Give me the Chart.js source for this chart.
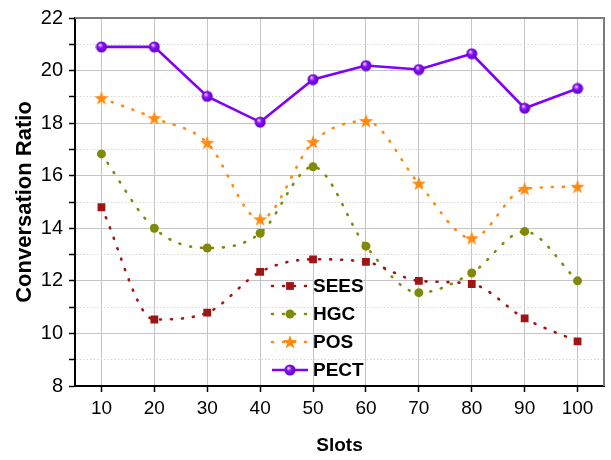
<!DOCTYPE html>
<html>
<head>
<meta charset="utf-8">
<script src="https://cdn.jsdelivr.net/npm/chart.js@4.4.1/dist/chart.umd.min.js"></script>
<style>
  html, body { margin: 0; padding: 0; background: #fff; }
</style>
</head>
<body>
<canvas id="ratio" width="611" height="460"></canvas>
<script>
const slots = ['10', '20', '30', '40', '50', '60', '70', '80', '90', '100'];
const seriesNames = ['SEES', 'HGC', 'POS', 'PECT'];
const sees = [14.8, 10.53, 10.79, 12.34, 12.82, 12.72, 12.0, 11.88, 10.57, 9.7];
const hgc = [16.83, 14.0, 13.25, 13.81, 16.34, 13.32, 11.55, 12.3, 13.88, 12.0];
const pos = [18.95, 18.19, 17.25, 14.34, 17.28, 18.08, 15.7, 13.62, 15.5, 15.58];
const pect = [20.9, 20.9, 19.02, 18.04, 19.66, 20.19, 20.04, 20.64, 18.57, 19.32];
const yMin = 8, yMax = 22;

const FONT = "'Liberation Sans', Arial, sans-serif";

// filled five point star for POS
function starImage(color) {
  const c = document.createElement('canvas');
  c.width = 16; c.height = 16;
  const g = c.getContext('2d');
  g.beginPath();
  for (let i = 0; i < 10; i++) {
    const r = i % 2 ? 3 : 7.5;
    const a = -Math.PI / 2 + i * Math.PI / 5;
    g.lineTo(8 + r * Math.cos(a), 8.5 + r * Math.sin(a));
  }
  g.closePath();
  g.fillStyle = color;
  g.fill();
  return c;
}

// shaded ball for PECT
function ballImage(color) {
  const c = document.createElement('canvas');
  c.width = 12; c.height = 12;
  const g = c.getContext('2d');
  const grad = g.createRadialGradient(4.5, 4, 0.5, 6, 6, 6);
  grad.addColorStop(0, '#e6ccff');
  grad.addColorStop(0.35, color);
  grad.addColorStop(1, '#5a00b5');
  g.beginPath();
  g.arc(6, 6, 5.5, 0, Math.PI * 2);
  g.fillStyle = grad;
  g.fill();
  return c;
}

const frame = {
  id: 'frame',
  beforeDatasetsDraw(chart) {
    const {ctx, chartArea: a} = chart;
    ctx.save();
    ctx.strokeStyle = '#7a7a7a';
    ctx.lineWidth = 2;
    ctx.beginPath();
    ctx.moveTo(a.left, a.top);
    ctx.lineTo(a.right, a.top);
    ctx.lineTo(a.right, a.bottom);
    ctx.stroke();
    ctx.restore();
  }
};

const insideLegend = {
  id: 'insideLegend',
  afterDatasetsDraw(chart) {
    const ctx = chart.ctx;
    const x0 = 272, y0 = 286, step = 28;
    chart.data.datasets.forEach((ds, i) => {
      const y = y0 + i * step;
      ctx.save();
      ctx.strokeStyle = ds.borderColor;
      ctx.lineWidth = ds.borderWidth;
      ctx.lineCap = ds.borderCapStyle || 'butt';
      ctx.setLineDash(ds.borderDash || []);
      ctx.beginPath();
      ctx.moveTo(x0, y);
      ctx.lineTo(x0 + 36, y);
      ctx.stroke();
      ctx.setLineDash([]);
      ctx.fillStyle = ds.pointBackgroundColor;
      Chart.helpers.drawPoint(ctx, {pointStyle: ds.pointStyle, radius: ds.pointRadius, rotation: 0, borderWidth: 0}, x0 + 18, y);
      ctx.fillStyle = '#000';
      ctx.font = 'bold 19px ' + FONT;
      ctx.textBaseline = 'middle';
      ctx.textAlign = 'left';
      ctx.fillText(ds.label, x0 + 41, y + 1);
      ctx.restore();
    });
  }
};

const dotted = {borderWidth: 2.6, borderDash: [1, 10], borderCapStyle: 'round', cubicInterpolationMode: 'monotone', fill: false};

new Chart(document.getElementById('ratio').getContext('2d'), {
  type: 'line',
  data: {
    labels: slots,
    datasets: [
      Object.assign({label: seriesNames[0], data: sees, borderColor: '#a01414', pointBackgroundColor: '#a01414',
        pointStyle: 'rect', pointRadius: 5.5, pointBorderWidth: 0}, dotted),
      Object.assign({label: seriesNames[1], data: hgc, borderColor: '#7f8a08', pointBackgroundColor: '#7f8a08',
        pointStyle: 'circle', pointRadius: 4.5, pointBorderWidth: 0}, dotted),
      Object.assign({label: seriesNames[2], data: pos, borderColor: '#ff8a10', pointBackgroundColor: '#ff8a10',
        pointStyle: starImage('#ff8a10'), pointRadius: 7, pointBorderWidth: 0}, dotted),
      {label: seriesNames[3], data: pect, borderColor: '#8000ff', pointBackgroundColor: '#8000ff',
        pointStyle: ballImage('#8a10ff'), pointRadius: 6, pointBorderWidth: 0, borderWidth: 2.6, tension: 0, fill: false}
    ]
  },
  options: {
    responsive: false,
    devicePixelRatio: 1,
    animation: false,
    layout: { padding: { top: 15, right: 7, left: 0, bottom: 0 } },
    plugins: {
      legend: { display: false },
      title: { display: false },
      tooltip: { enabled: false }
    },
    scales: {
      x: {
        type: 'category',
        offset: true,
        grid: { color: '#c4c4c4', lineWidth: 1, tickColor: '#000', tickLength: 6, tickWidth: 1.5 },
        border: { color: '#000', width: 2 },
        ticks: { color: '#000', font: { family: FONT, size: 19 }, padding: 5, maxRotation: 0 },
        title: { display: true, text: 'Slots', color: '#000', font: { family: FONT, size: 19, weight: 'bold' }, padding: { top: 0, bottom: 3 } },
        afterFit: s => { s.height = 74; }
      },
      y: {
        min: yMin,
        max: yMax,
        grid: {
          color: c => (c.tick && c.tick.value % 2) ? '#d6d6d6' : '#c4c4c4',
          lineWidth: 1,
          tickColor: '#000',
          tickLength: 6,
          tickWidth: 1.5
        },
        border: {
          color: '#000',
          width: 2,
          dash: c => (c.tick && c.tick.value % 2) ? [1.5, 2] : []
        },
        ticks: {
          stepSize: 1,
          autoSkip: false,
          color: '#000',
          padding: 6,
          font: { family: FONT, size: 20 },
          callback: v => (v % 2 ? '' : v)
        },
        title: { display: true, text: 'Conversation Ratio', color: '#000', font: { family: FONT, size: 22, weight: 'bold' }, padding: { top: 12, bottom: 0 } },
        afterFit: s => { s.width = 75; }
      }
    }
  },
  plugins: [frame, insideLegend]
});
</script>
</body>
</html>
